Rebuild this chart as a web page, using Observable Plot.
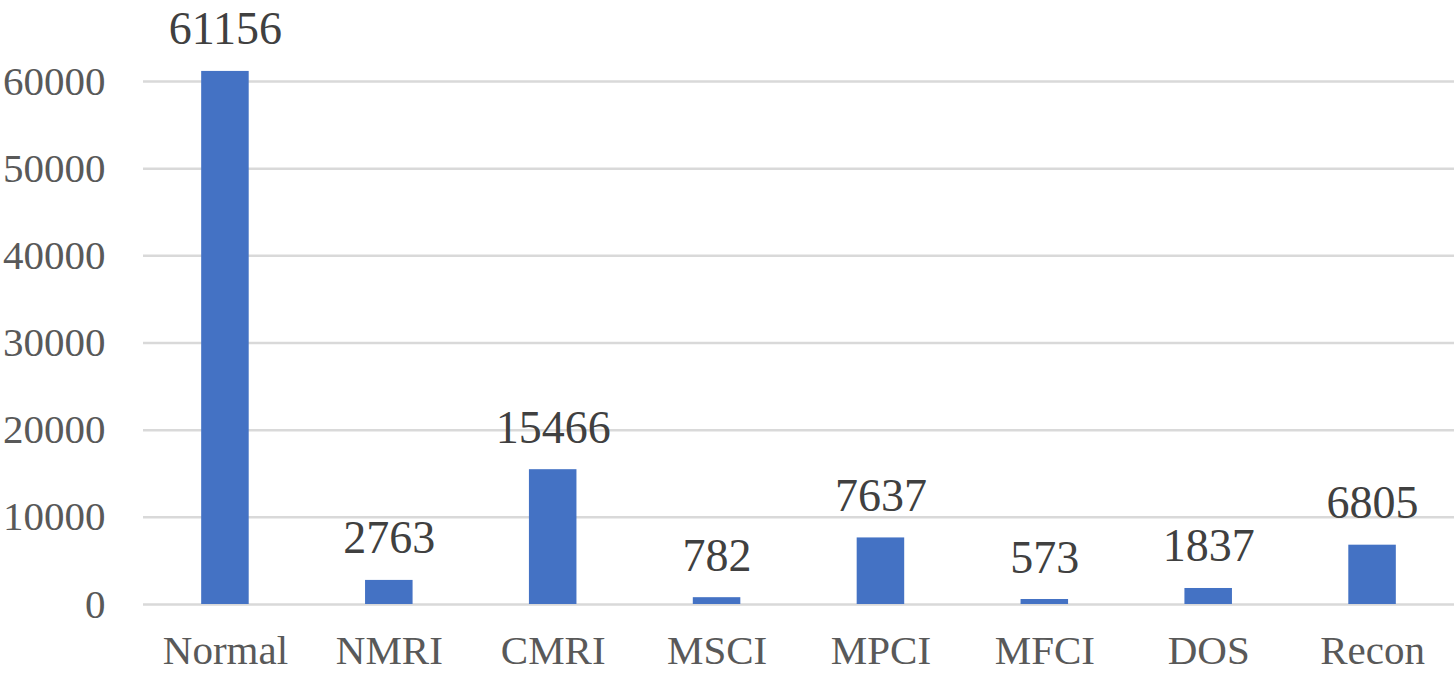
<!DOCTYPE html>
<html>
<head>
<meta charset="utf-8">
<script src="https://cdn.jsdelivr.net/npm/d3@7"></script>
<script src="https://cdn.jsdelivr.net/npm/@observablehq/plot@0.6"></script>
<style>
html, body { margin: 0; padding: 0; background: #fff; }
#chart svg { display: block; }
</style>
</head>
<body>
<div id="chart"></div>
<script>
const categories = ["Normal", "NMRI", "CMRI", "MSCI", "MPCI", "MFCI", "DOS", "Recon"];
const counts = [61156, 2763, 15466, 782, 7637, 573, 1837, 6805];
const yTicks = [0, 10000, 20000, 30000, 40000, 50000, 60000];

const data = categories.map((c, i) => ({category: c, count: counts[i]}));

const chart = Plot.plot({
  width: 1454,
  height: 678,
  marginLeft: 143,
  marginRight: 0,
  marginTop: 81,
  marginBottom: 74,
  style: {fontFamily: "'Liberation Serif', 'Times New Roman', serif", background: "#fff"},
  x: {domain: categories, paddingInner: 0.71, paddingOuter: 0.355, round: false, label: null},
  y: {domain: [0, 60000], label: null},
  marks: [
    Plot.ruleY(yTicks, {stroke: "#d9d9d9", strokeWidth: 2.5}),
    Plot.barY(data, {x: "category", y: "count", fill: "#4472C4"}),
    Plot.text(data, {x: "category", y: "count", text: d => String(d.count), lineAnchor: "bottom", dy: -27, fontSize: 46, fill: "#404040"}),
    Plot.axisY(yTicks, {tickSize: 0, tickPadding: 38, fontSize: 41, fill: "#595959", tickFormat: d => String(d), label: null}),
    Plot.axisX({tickSize: 0, tickPadding: 30, fontSize: 41, fill: "#595959", label: null})
  ]
});
document.getElementById("chart").append(chart);
</script>
</body>
</html>
